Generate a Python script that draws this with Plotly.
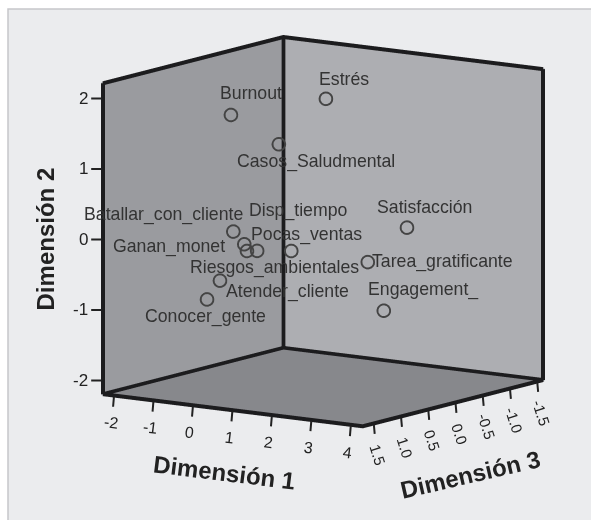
import plotly.graph_objects as go

labels = ["Burnout", "Estrés", "Casos_Saludmental", "Satisfacción", "Tarea_gratificante",
          "Engagement_", "Batallar_con_cliente", "Ganan_monet", "Riesgos_ambientales",
          "Disp_tiempo", "Pocas_ventas", "Atender_cliente", "Conocer_gente"]
dim1 = [-0.15, 1.29, 0.65, 2.24, 1.66, 1.79, -0.09, 0.05, -0.02, 0.10, 0.55, -0.29, -0.48]
dim2 = [1.76, 1.95, 1.34, 0.03, -0.44, -1.16, 0.11, -0.08, -0.20, -0.21, -0.24, -0.58, -0.84]
dim3 = [0.9, 0.2, 0.6, -0.6, -0.3, -0.5, 0.9, 0.8, 0.7, 0.6, 0.3, 1.0, 1.1]

# label placement relative to each point (px)
label_dx = [20, 18.5, 37.5, 18, 75, 40, -69, -75, 28, 41, 16, 67.5, -1]
label_dy = [22, 20, -17, 20, 0, 21, 17, -2, -17, 40, 16, -11, -17]

d1_ticks = [-2, -1, 0, 1, 2, 3, 4]
d2_ticks = [-2, -1, 0, 1, 2]
d3_ticks = [1.5, 1.0, 0.5, 0.0, -0.5, -1.0, -1.5]
d3_text = ["1.5", "1.0", "0.5", "0.0", "-0.5", "-1.0", "-1.5"]

d1_range = [-2.31, 4.31]
d2_range = [-2.21, 2.23]
d3_range = [1.70, -1.63]

EDGE = "#1c1c1e"
FONT = "Liberation Sans"
x0, x1 = d1_range[0] + 0.02, d1_range[1] - 0.02
z0, z1 = d2_range[0] + 0.015, d2_range[1] - 0.015
ya, yb = d3_range[0] - 0.01, d3_range[1] + 0.01
ex = [x0, x1, x1, x0, x0, None, x0, x0, x1, None, x0, x0, None, x0, x0, None, x1, x1]
ey = [ya, ya, yb, yb, ya, None, ya, yb, yb, None, ya, ya, None, yb, yb, None, yb, yb]
ez = [z0, z0, z0, z0, z0, None, z1, z1, z1, None, z0, z1, None, z0, z1, None, z0, z1]

fig = go.Figure()
fig.add_trace(go.Scatter3d(x=ex, y=ey, z=ez, mode="lines", hoverinfo="skip", showlegend=False,
                           line=dict(color=EDGE, width=8)))
fig.add_trace(go.Scatter3d(x=dim1, y=dim3, z=dim2, mode="markers", showlegend=False, text=labels,
                           marker=dict(symbol="circle-open", size=8, color="#444444",
                                       line=dict(color="#444444", width=2))))

def ax(rng, vals, bg):
    return dict(title=dict(text=""), range=rng, tickvals=vals, ticks="", showticklabels=False,
                showgrid=False, zeroline=False, showline=False, showbackground=True,
                backgroundcolor=bg, showspikes=False)

def note(x, y, z, text, dx, dy, size, angle=0, xanchor="center", color="#222"):
    return dict(x=x, y=y, z=z, text=text, showarrow=False, xanchor=xanchor, yanchor="middle",
                xshift=dx, yshift=dy, textangle=angle, font=dict(family=FONT, size=size, color=color))

def tick(x, y, z, ox, oy):
    return dict(x=x, y=y, z=z, text=" ", showarrow=True, arrowhead=0, arrowwidth=2, arrowcolor="#222",
                ax=ox, ay=oy, standoff=0, font=dict(size=1))

annots = [note(a, c, b, t, dx, dy, 17.7, color="#333")
          for a, b, c, t, dx, dy in zip(dim1, dim2, dim3, labels, label_dx, label_dy)]
annots += [tick(v, d3_range[0], d2_range[0], -1, 12) for v in d1_ticks]
annots += [tick(d1_range[1], v, d2_range[0], 1, 11) for v in d3_ticks]
annots += [tick(d1_range[0], d3_range[0], v, -12, 0) for v in d2_ticks]
annots += [note(v, d3_range[0], d2_range[0], str(v), -3, -26, 16, 7) for v in d1_ticks]
annots += [note(d1_range[1], v, d2_range[0], t, 3.5, -30, 15, 72) for v, t in zip(d3_ticks, d3_text)]
annots += [note(d1_range[0], d3_range[0], v, str(v), -12, 0, 17, 0, xanchor="right") for v in d2_ticks]
annots += [note(sum(d1_range) / 2, d3_range[0], d2_range[0], "<b>Dimensión 1</b>", -8, -61, 24, 7),
           note(d1_range[1], sum(d3_range) / 2, d2_range[0], "<b>Dimensión 3</b>", 16.5, -70, 24, -13),
           note(d1_range[0], d3_range[0], sum(d2_range) / 2, "<b>Dimensión 2</b>", -56, 0, 24, -90)]

cx, cy, cz = -0.0627, -0.0713, -0.1265
vx, vy, vz = 0.561, -0.808, 0.178
fig.update_layout(
    width=591, height=520, autosize=False, paper_bgcolor="white",
    margin=dict(l=8, r=0, t=9, b=0),
    shapes=[dict(type="rect", xref="paper", yref="paper", x0=0, x1=1.1, y0=-0.1, y1=1,
                 layer="below", fillcolor="#ebecee", line=dict(color="#c6c6ca", width=1.5))],
    scene=dict(
        bgcolor="rgba(0,0,0,0)",
        aspectmode="manual",
        aspectratio=dict(x=1.245, y=1.245, z=1.245),
        camera=dict(projection=dict(type="orthographic"),
                    eye=dict(x=cx + 1.6 * vx, y=cy + 1.6 * vy, z=cz + 1.6 * vz),
                    up=dict(x=0, y=0, z=1),
                    center=dict(x=cx, y=cy, z=cz)),
        xaxis=ax(d1_range, d1_ticks, "#9a9b9f"),
        yaxis=ax(d3_range, d3_ticks, "#adaeb2"),
        zaxis=ax(d2_range, d2_ticks, "#87888c"),
        annotations=annots,
    ),
)
fig.write_html("out.html", config={"displayModeBar": False},
               post_script="document.documentElement.style.overflow='hidden';document.body.style.margin='0';")
